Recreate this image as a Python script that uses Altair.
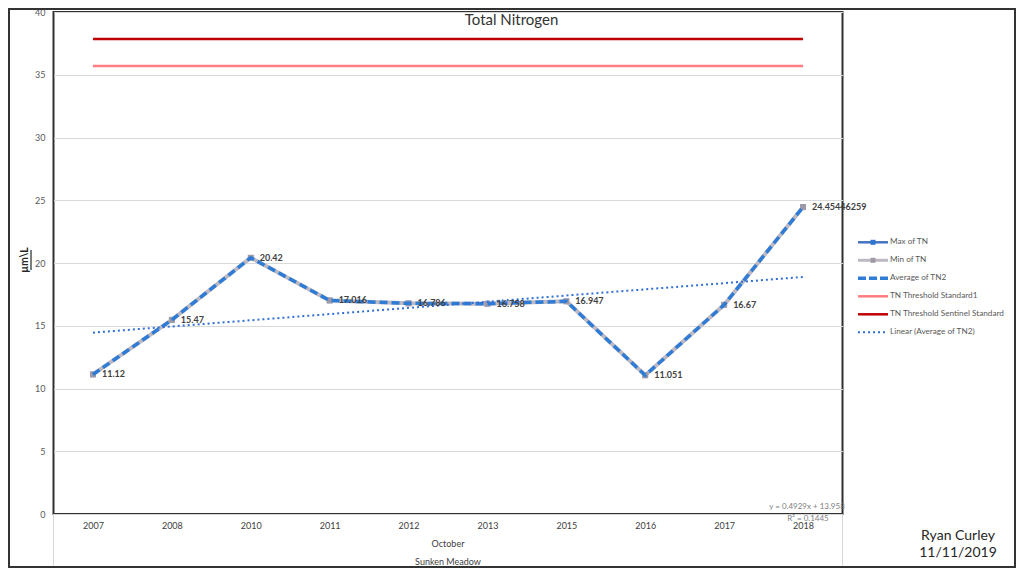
import altair as alt
import pandas as pd

# ---------------- data ----------------
years = ["2007", "2008", "2010", "2011", "2012", "2013", "2015", "2016", "2017", "2018"]
max_tn = [11.12, 15.47, 20.42, 17.016, 16.786, 16.758, 16.947, 11.051, 16.67, 24.45446259]
min_tn = [11.12, 15.47, 20.42, 17.016, 16.786, 16.758, 16.947, 11.051, 16.67, 24.45446259]
avg_tn = [11.12, 15.47, 20.42, 17.016, 16.786, 16.758, 16.947, 11.051, 16.67, 24.45446259]
threshold_standard1 = 35.7
threshold_sentinel = 37.85
legend_labels = ["Max of TN", "Min of TN", "Average of TN2", "TN Threshold Standard1",
                 "TN Threshold Sentinel Standard", "Linear (Average of TN2)"]
trend_text = ["y = 0.4929x + 13.958", "R\u00b2 = 0.1445"]
y_ticks = [0, 5, 10, 15, 20, 25, 30, 35, 40]

df = pd.DataFrame({
    "year": years,
    "idx": list(range(1, len(years) + 1)),
    "max": max_tn,
    "min": min_tn,
    "avg": avg_tn,
    "std1": [threshold_standard1] * len(years),
    "sent": [threshold_sentinel] * len(years),
})
one = pd.DataFrame({"a": [0]})

FONT = "Lato"
W, H = 789, 502

xenc = alt.X("year:O", sort=years, scale=alt.Scale(type="point", padding=0.5),
             axis=alt.Axis(title=None, labelAngle=0, ticks=False, domain=False, grid=False,
                           labelFontSize=9, labelColor="#404040", labelPadding=7, labelFont=FONT))
yscale = alt.Scale(domain=[0, 40], nice=False, zero=True)
yaxis = alt.Axis(title=None, values=y_ticks, grid=True, gridColor="#D9D9D9", gridWidth=1,
                 ticks=False, domain=False, labelPadding=8.5, labelFontSize=9,
                 labelColor="#595959", labelFont=FONT)


def Y(field):
    return alt.Y(f"{field}:Q", scale=yscale, axis=yaxis)


base = alt.Chart(df)

std1 = base.mark_line(color="#FF7C80", strokeWidth=2.5).encode(x=xenc, y=Y("std1"))
sent = base.mark_line(color="#C00000", strokeWidth=2.5).encode(x=xenc, y=Y("sent"))

max_line = base.mark_line(color="#4472C4", strokeWidth=2.25).encode(x=xenc, y=Y("max"))
max_pts = base.mark_point(shape="square", filled=True, size=30, color="#2E75D1", opacity=1).encode(x=xenc, y=Y("max"))
min_line = base.mark_line(color="#BDB8C2", strokeWidth=4).encode(x=xenc, y=Y("min"))
min_pts = base.mark_point(shape="square", filled=True, size=36, color="#A09AA8", opacity=1).encode(x=xenc, y=Y("min"))
avg_line = base.mark_line(color="#2E7CD6", strokeWidth=3.5, strokeDash=[8, 4], strokeCap="butt").encode(x=xenc, y=Y("avg"))

trend = (
    base.transform_regression("idx", "avg", method="linear", extent=[1, len(years)])
    .transform_lookup(lookup="idx", from_=alt.LookupData(data=df, key="idx", fields=["year"]))
    .mark_line(color="#2F6FD6", strokeWidth=2, strokeDash=[2, 3], strokeCap="butt")
    .encode(x=xenc, y=Y("avg"))
)

labels = base.mark_text(align="left", baseline="middle", dx=9, fontSize=9, fontWeight="bold",
                        color="#404040", font=FONT).encode(x=xenc, y=Y("avg"), text=alt.Text("avg:N"))

layers = [std1, sent, max_line, max_pts, min_line, min_pts, avg_line, trend, labels]

# ------------- decorations / text -------------
def txt(s, x, y, size, color="#404040", weight="normal", align="center", angle=0):
    kw = dict(align=align, baseline="middle", fontSize=size, color=color, fontWeight=weight, font=FONT)
    if angle:
        kw["angle"] = angle
    return alt.Chart(one).mark_text(**kw).encode(x=alt.value(x), y=alt.value(y), text=alt.value(s))


def rule(x1, x2, y1, y2, color, width, dash=None):
    kw = dict(color=color, strokeWidth=width, strokeCap="butt")
    if dash:
        kw["strokeDash"] = dash
    return alt.Chart(one).mark_rule(**kw).encode(x=alt.value(x1), x2=alt.value(x2),
                                                 y=alt.value(y1), y2=alt.value(y2))


layers.append(txt("Total Nitrogen", 458, 8, 15, color="#333333"))
layers.append(txt("\u00b5m\\L", -28.5, 248, 10.5, color="#262626", weight="bold", angle=270))
layers.append(rule(-22.5, -22.5, 238, 258, "#262626", 1.2))
layers.append(txt("October", 394.5, 532, 9))
layers.append(txt("Sunken Meadow", 394.5, 550, 9))
layers.append(rule(0, 0, 502, 556, "#D9D9D9", 1))
layers.append(rule(W, W, 502, 556, "#D9D9D9", 1))
layers.append(txt(trend_text[0], 753.5, 495, 8, color="#808080"))
layers.append(txt(trend_text[1], 754.5, 507, 8, color="#808080"))
layers.append(txt("Ryan Curley", 904.5, 524, 14, color="#262626"))
layers.append(txt("11/11/2019", 904.5, 541, 14, color="#262626"))

# legend
leg_styles = [
    dict(color="#4472C4", width=2.5, dash=None, marker="#2E75D1"),
    dict(color="#BDB8C2", width=3, dash=None, marker="#A09AA8"),
    dict(color="#2E7CD6", width=3.5, dash=[8, 3], marker=None),
    dict(color="#FF7C80", width=2.5, dash=None, marker=None),
    dict(color="#C00000", width=2.5, dash=None, marker=None),
    dict(color="#2F6FD6", width=2, dash=[2, 3], marker=None),
]
lx0, lx1, ly0, lstep = 804.5, 834.5, 230.3, 18
for i, (lab, st) in enumerate(zip(legend_labels, leg_styles)):
    yy = ly0 + i * lstep
    layers.append(rule(lx0, lx1, yy, yy, st["color"], st["width"], st["dash"]))
    if st["marker"]:
        layers.append(alt.Chart(one).mark_point(shape="square", filled=True, size=25, color=st["marker"], opacity=1)
                      .encode(x=alt.value((lx0 + lx1) / 2), y=alt.value(yy)))
    layers.append(txt(lab, lx1 + 2, yy, 8.2, color="#595959", align="left"))

# outer frame
layers.append(alt.Chart(one).mark_rect(fillOpacity=0, stroke="#333333", strokeWidth=2)
              .encode(x=alt.value(-44.5), x2=alt.value(961.5), y=alt.value(-3), y2=alt.value(555)))

chart = (
    alt.layer(*layers)
    .properties(width=W, height=H, autosize=alt.AutoSizeParams(type="none"),
                padding={"left": 45.5, "top": 4, "right": 173.5, "bottom": 54})
    .configure(font=FONT)
    .configure_view(stroke="#303030", strokeWidth=2)
)

chart.save("out.html", embed_options={"renderer": "svg", "actions": False})
